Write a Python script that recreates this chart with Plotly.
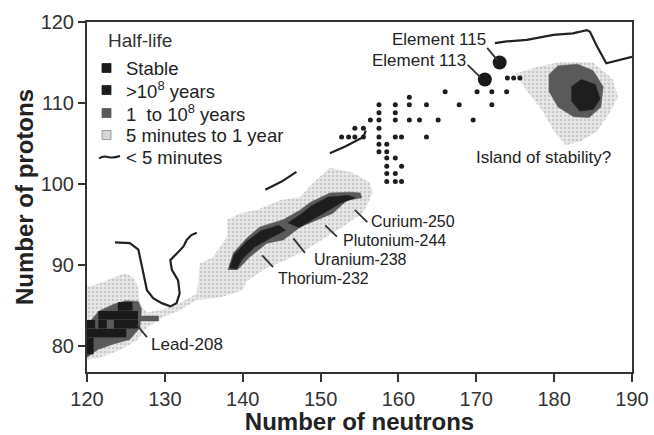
import plotly.graph_objects as go

# ---------------- data (neutron number N, proton number Z) ----------------
# "5 minutes to 1 year" regions (None separates polygons)
light_n = [120, 121.7, 123.3, 124.9, 125.9, 126.6, 126.8, 127.7, 130.3, 131.9, 134.1, 134.5, 136.2, 138.0,
           138.0, 139.7, 141.8, 144.8, 147.4, 149.0, 151.2, 154.2, 156.3, 156.7,
           155.5, 153.0, 150.5, 148.0, 145.5, 143.0, 140.5, 140.0, 137.1, 134.1, 131.9, 129.8, 127.7,
           126.4, 124.2, 121.7, 120, None,
           175, 178, 181, 185, 187.5, 188.2, 186.8, 185.5, 183.5, 181.5, 180, 178.5, 176.5]
light_z = [87.3, 87.8, 88.4, 89.0, 88.5, 87.3, 85.3, 84.1, 84.7, 85.3, 86.5, 90.2, 91.0, 93.5,
           95.6, 96.4, 96.8, 98.0, 98.4, 100.1, 102.0, 101.4, 100.2, 98.9,
           96.5, 94.8, 93.3, 91.8, 90.6, 89.6, 88.0, 86.9, 86.0, 85.7, 84.4, 83.6, 82.3,
           80.7, 79.5, 78.6, 78.3, None,
           113.6, 114.5, 115.1, 115.0, 113.0, 110.7, 108.3, 106.5, 105.3, 104.8, 106.5, 109.0, 111.5]

# "1 to 10^8 years" regions
mid_n = [138.1, 138.8, 140.5, 142.2, 145.2, 147.4, 148.6, 151.2, 153.8, 155.1, 155.3, 153.4, 151.6,
         149.5, 147.4, 145.2, 143.1, 140.9, 139.3, None,
         120, 120, 121.5, 123.5, 125, 126.6, 127, 126.8, 125.5, 123.5, 121.5, None,
         126.8, 129.2, 129.2, 126.8, None,
         179.3, 180.5, 183, 185, 186.3, 186, 184.5, 182.5, 180.5, 179.3]
mid_z = [89.4, 91.5, 93.3, 94.7, 95.6, 96.8, 97.7, 98.9, 99.0, 98.9, 98.3, 98.0, 96.4,
         95.6, 94.7, 93.1, 92.7, 91.0, 89.4, None,
         78.6, 82.6, 84.3, 85.2, 85.6, 85.5, 84.5, 82.3, 80.8, 80.3, 79.6, None,
         83.7, 83.7, 83.1, 83.1, None,
         113.5, 114.6, 114.8, 114.0, 112.0, 109.5, 108.2, 108.3, 109.5, 111.5]

# ">10^8 years" regions
long_n = [138.3, 138.9, 140.5, 142.3, 144.6, 145.5, 143.5, 141.5, 140.0, 139.2, None,
          145.8, 147.5, 148.8, 151.0, 153.5, 154.5, 152.5, 150.6, 149.0, 147.2, None,
          182.2, 183.5, 185.3, 185.9, 185.0, 183.3, 182.2]
long_z = [89.6, 91.3, 92.9, 94.2, 94.9, 94.3, 93.3, 92.2, 90.8, 89.5, None,
          95.2, 96.3, 97.3, 98.4, 98.6, 98.3, 97.6, 96.5, 95.6, 94.6, None,
          112.0, 112.9, 112.3, 110.5, 109.2, 109.0, 110.3]

# stable nuclides (lead region cells)
stable_n = [120.3, 120.3,
            120.5, 121.5, 122.5, 123.5, 124.5,
            120.5, 122.0, 124.0, 125.0, 126.0,
            122.0, 123.0, 124.0, 125.0, 126.0,
            124.5, 125.3]
stable_z = [79.5, 80.5,
            81.6, 81.6, 81.6, 81.6, 81.6,
            82.7, 82.7, 82.7, 82.7, 82.7,
            83.8, 83.8, 83.8, 83.8, 83.8,
            84.9, 84.9]

# "< 5 minutes" boundary segments
short_n = [123.6, 125.5, 126.6, 127.0, 127.4, 127.7, 128.5, 129.6, 130.7, 131.5, 131.9, 131.7, 130.9,
           130.7, 131.5, 132.4, 132.8, 133.4, 134.1, None,
           142.9, 145.0, 146.9, None,
           151.2, 153.3, 155.5, 155.8, None,
           172.4, 173.9, 176.5, 179.9, 182.4, 184.2, 184.6, 185.5, 186.7, 188.4, 190.0]
short_z = [92.8, 92.7, 91.9, 90.2, 88.6, 86.9, 85.9, 85.3, 84.9, 85.3, 86.5, 88.1, 89.4,
           90.6, 91.4, 92.3, 93.1, 93.7, 94.0, None,
           99.3, 100.3, 101.5, None,
           103.8, 104.7, 105.8, 106.6, None,
           117.4, 117.6, 117.8, 118.4, 118.6, 119.0, 118.8, 117.0, 114.9, 115.3, 115.7]

# synthesised superheavy nuclides
dots_n = [174.0, 174.8, 175.6,
          166.0, 170.1, 172.0, 173.9,
          161.4,
          157.5, 159.6, 161.4, 163.6, 167.8, 172.0,
          157.5, 159.6,
          156.4, 157.5, 159.6, 161.4, 162.7, 165.1, 169.6,
          154.4, 155.5, 157.5,
          152.7, 153.6, 154.4, 155.5, 157.5, 159.6, 160.4, 163.6,
          157.5, 158.5,
          157.5, 158.5,
          158.5, 159.6,
          158.5, 160.4,
          158.5, 159.6,
          158.5, 159.6, 160.4]
dots_z = [113.1, 113.1, 113.1,
          111.4, 111.4, 111.4, 111.4,
          110.7,
          109.8, 109.8, 109.8, 109.8, 109.8, 109.8,
          108.8, 108.8,
          107.9, 107.9, 107.9, 107.9, 107.9, 107.9, 107.9,
          106.9, 106.9, 106.9,
          105.8, 105.8, 105.8, 105.8, 105.8, 105.8, 105.8, 105.8,
          104.9, 104.9,
          104.0, 104.0,
          103.2, 103.2,
          102.2, 102.2,
          101.3, 101.3,
          100.3, 100.3, 100.3]

# elements 113 and 115
elem_n = [171.1, 173.0]
elem_z = [112.9, 115.0]

# tick values
x_ticks = [120, 130, 140, 150, 160, 170, 180, 190]
y_ticks = [80, 90, 100, 110, 120]

# legend entries
legend_names = ["Stable", "&gt;10<sup>8</sup> years", "1&nbsp; to 10<sup>8</sup> years",
                "5 minutes to 1 year", "&lt; 5 minutes"]

# labels: text, anchor N, anchor Z, alignment, font size
label_text = ["Element 115", "Element 113", "Island of stability?", "Curium-250",
              "Plutonium-244", "Uranium-238", "Thorium-232", "Lead-208"]
label_pos = [(171.4, 117.8, "right", 17), (168.8, 115.3, "right", 17), (169.8, 103.3, "left", 17),
             (156.3, 95.4, "left", 16), (152.75, 93.0, "left", 16), (149.0, 90.7, "left", 16),
             (144.4, 88.4, "left", 16), (128.1, 80.25, "left", 17)]
pointers = [(171.4, 116.8, 172.7, 115.3), (168.9, 114.7, 170.5, 113.2), None,
            (154.4, 96.8, 156.0, 95.3), (150.6, 94.9, 152.1, 93.5), (146.5, 93.3, 148.0, 91.5),
            (142.5, 91.2, 143.9, 89.75), (126.4, 82.6, 127.7, 81.1)]

FONT = "Liberation Sans, Arial, Helvetica, sans-serif"
INK = "#222222"
C_STABLE, C_LONG, C_MID, C_LIGHT = "#1a1a1a", "#1e1e1e", "#5a5a5a", "#d6d6d6"

fig = go.Figure()

fig.add_trace(go.Scatter(x=light_n, y=light_z, mode="lines", fill="toself",
                         fillcolor="#e0e0e0", line=dict(width=0), name=legend_names[3],
                         fillpattern=dict(shape=".", fgcolor="#a8a8a8", bgcolor="#e8e8e8",
                                          size=4, solidity=0.35),
                         showlegend=False, hoverinfo="skip"))
fig.add_trace(go.Scatter(x=mid_n, y=mid_z, mode="lines", fill="toself", name=legend_names[2],
                         fillcolor=C_MID, line=dict(width=0.5, color="#555555"),
                         showlegend=False, hoverinfo="skip"))
fig.add_trace(go.Scatter(x=long_n, y=long_z, mode="lines", fill="toself", name=legend_names[1],
                         fillcolor=C_LONG, line=dict(width=0.5, color=C_LONG),
                         showlegend=False, hoverinfo="skip"))
fig.add_trace(go.Scatter(x=stable_n, y=stable_z, mode="markers", name=legend_names[0],
                         marker=dict(symbol="square", size=8.5, color=C_STABLE),
                         showlegend=False))
fig.add_trace(go.Scatter(x=short_n, y=short_z, mode="lines", name=legend_names[4],
                         line=dict(color=INK, width=2.2), showlegend=False, hoverinfo="skip"))
fig.add_trace(go.Scatter(x=dots_n, y=dots_z, mode="markers", showlegend=False,
                         marker=dict(size=5, color="#1e1e1e")))
fig.add_trace(go.Scatter(x=elem_n, y=elem_z, mode="markers", showlegend=False,
                         marker=dict(size=14, color="#1a1a1a")))

# pointer lines
pn, pz = [], []
for p in pointers:
    if p is None:
        continue
    pn += [p[0], p[2], None]
    pz += [p[1], p[3], None]
fig.add_trace(go.Scatter(x=pn, y=pz, mode="lines", showlegend=False, hoverinfo="skip",
                         line=dict(color="#333333", width=1.8)))

for txt, (xn, yz, al, fs) in zip(label_text, label_pos):
    fig.add_annotation(x=xn, y=yz, text=txt, showarrow=False, xanchor=al, yanchor="middle",
                       borderpad=0, font=dict(family=FONT, size=fs, color=INK))

# ---- legend box (top-left, inside the frame), positions in plot-area fractions ----
PW, PH = 545.0, 350.0          # plot area size in px
def px_x(d):                   # px offset from left edge of plot area -> paper fraction
    return d / PW
def px_y(d):                   # px offset from top edge of plot area -> paper fraction
    return 1 - d / PH

fig.add_annotation(xref="paper", yref="paper", x=px_x(19), y=px_y(19), text="Half-life",
                   showarrow=False, xanchor="left", yanchor="middle",
                   font=dict(family="Liberation Sans Narrow, Arial Narrow, Liberation Sans, Arial",
                             size=19, color="#333333"))
swatch_colors = [C_STABLE, C_LONG, C_MID, C_LIGHT]
row_y = [46, 68, 91, 113, 135]
for i, name in enumerate(legend_names):
    cy = row_y[i]
    if i < 4:
        fig.add_shape(type="rect", xref="paper", yref="paper",
                      x0=px_x(15), x1=px_x(24), y0=px_y(cy - 4.5), y1=px_y(cy + 4.5),
                      fillcolor=swatch_colors[i], line=dict(width=0.8, color="#888888" if i == 3 else swatch_colors[i]))
    else:
        fig.add_shape(type="path", xref="paper", yref="paper",
                      path="M {:.4f},{:.4f} Q {:.4f},{:.4f} {:.4f},{:.4f} T {:.4f},{:.4f}".format(
                          px_x(12), px_y(cy + 1.5), px_x(16), px_y(cy - 1.5), px_x(21), px_y(cy),
                          px_x(33), px_y(cy - 1)),
                      line=dict(color=INK, width=2))
    fig.add_annotation(xref="paper", yref="paper", x=px_x(37), y=px_y(cy), text=name,
                       showarrow=False, xanchor="left", yanchor="middle",
                       font=dict(family=FONT, size=18.5, color=INK))

fig.update_layout(
    width=654, height=435,
    margin=dict(l=87, r=22, t=22, b=63, autoexpand=False),
    paper_bgcolor="white", plot_bgcolor="white",
    font=dict(family=FONT, color=INK),
    showlegend=False,
    xaxis=dict(range=[120, 190], tickvals=x_ticks, ticks="outside", ticklen=8, tickwidth=2,
               tickcolor="#333333", showline=True, linewidth=2, linecolor="#333333", mirror=True,
               showgrid=False, zeroline=False, automargin=False,
               tickfont=dict(family=FONT, size=20, color="#333333"),
               title=dict(text="Number of neutrons", standoff=11,
                          font=dict(family=FONT, size=24, color=INK, weight="bold"))),
    yaxis=dict(range=[76.8, 120], tickvals=y_ticks, ticks="outside", ticklen=7, tickwidth=2,
               tickcolor="#333333", showline=True, linewidth=2, linecolor="#333333", mirror=True,
               showgrid=False, zeroline=False, automargin=False,
               tickfont=dict(family=FONT, size=20, color="#333333"),
               title=dict(text="Number of protons", standoff=0,
                          font=dict(family=FONT, size=24, color=INK, weight="bold"))),
)

# remove the default 8px page margin so the 654x435 figure fills the window exactly
fig.write_html("out.html", config={"displayModeBar": False},
               post_script="document.body.style.margin='0';document.body.style.overflow='hidden';")
